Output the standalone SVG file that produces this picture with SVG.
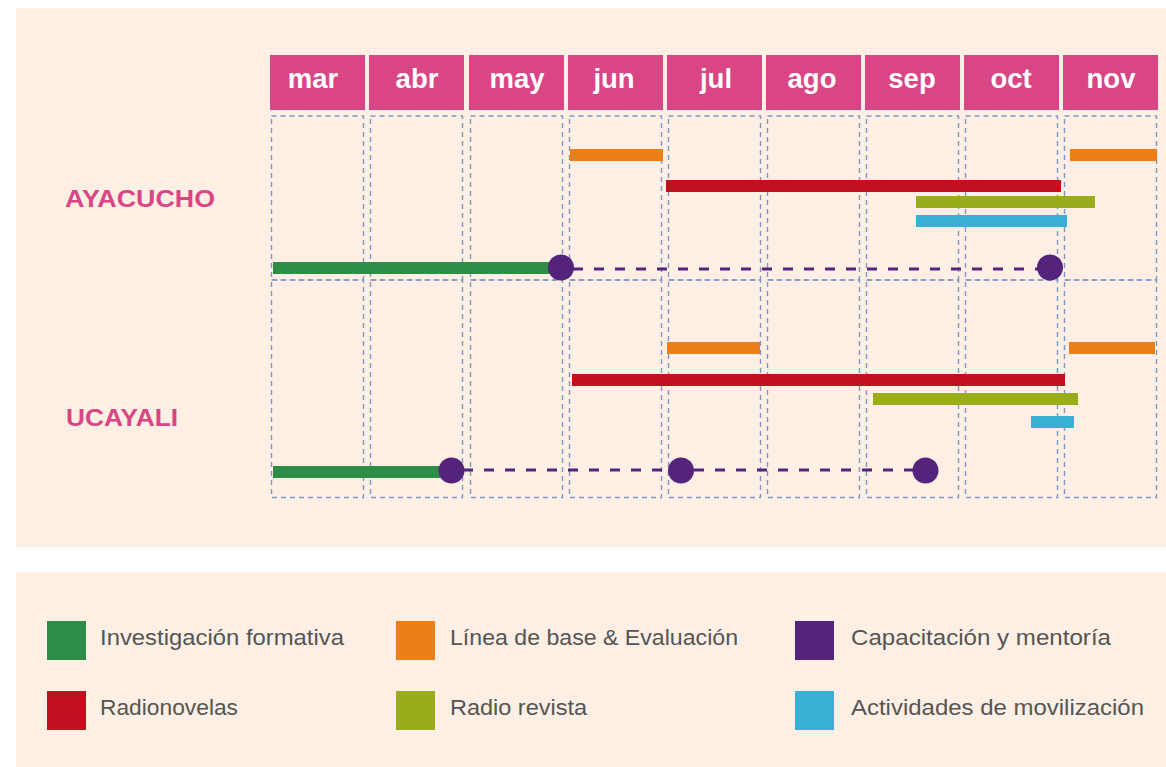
<svg xmlns="http://www.w3.org/2000/svg" width="1166" height="767" viewBox="0 0 1166 767">
<style>
.panel{fill:#fdefe3}
.hdr{fill:#d94585}
.mon{font-family:"Liberation Sans",Arial,sans-serif;font-weight:bold;font-size:27.5px;fill:#fff;text-anchor:middle}
.grid{fill:none;stroke:#7f96c6;stroke-width:1.4;stroke-dasharray:5 4}
.region{font-family:"Liberation Sans",Arial,sans-serif;font-weight:bold;font-size:23px;fill:#d94585}
.leg{font-family:"Liberation Sans",Arial,sans-serif;font-size:22px;fill:#555}
.or{fill:#ec7f17}.rd{fill:#c2101f}.ol{fill:#98ad19}.bl{fill:#38b0d6}.gr{fill:#2d8c46}.pu{fill:#54247c}
.mentor{stroke:#54247c;stroke-width:3;stroke-dasharray:10 11;fill:none}
</style>
<rect width="1166" height="767" fill="#fff"/>
<rect class="panel" x="16" y="8" width="1150" height="539"/>
<rect class="panel" x="16" y="572" width="1150" height="195"/>

<g id="header">
<rect class="hdr" x="270" y="55" width="95" height="55"/>
<rect class="hdr" x="369" y="55" width="95" height="55"/>
<rect class="hdr" x="469" y="55" width="95" height="55"/>
<rect class="hdr" x="568" y="55" width="95" height="55"/>
<rect class="hdr" x="667" y="55" width="95" height="55"/>
<rect class="hdr" x="766" y="55" width="95" height="55"/>
<rect class="hdr" x="865" y="55" width="95" height="55"/>
<rect class="hdr" x="964" y="55" width="95" height="55"/>
<rect class="hdr" x="1063" y="55" width="95" height="55"/>
<text class="mon" x="313" y="88">mar</text>
<text class="mon" x="417" y="88">abr</text>
<text class="mon" x="517" y="88">may</text>
<text class="mon" x="614" y="88">jun</text>
<text class="mon" x="716" y="88">jul</text>
<text class="mon" x="812" y="88">ago</text>
<text class="mon" x="912" y="88">sep</text>
<text class="mon" x="1011" y="88">oct</text>
<text class="mon" x="1111" y="88">nov</text>
</g>

<g id="grid">
<rect class="grid" x="271.5" y="116" width="92" height="164"/>
<rect class="grid" x="370.5" y="116" width="92" height="164"/>
<rect class="grid" x="470.5" y="116" width="92" height="164"/>
<rect class="grid" x="569.5" y="116" width="92" height="164"/>
<rect class="grid" x="668.5" y="116" width="92" height="164"/>
<rect class="grid" x="767.5" y="116" width="92" height="164"/>
<rect class="grid" x="866.5" y="116" width="92" height="164"/>
<rect class="grid" x="965.5" y="116" width="92" height="164"/>
<rect class="grid" x="1064.5" y="116" width="92" height="164"/>
<rect class="grid" x="271.5" y="280" width="92" height="217.5"/>
<rect class="grid" x="370.5" y="280" width="92" height="217.5"/>
<rect class="grid" x="470.5" y="280" width="92" height="217.5"/>
<rect class="grid" x="569.5" y="280" width="92" height="217.5"/>
<rect class="grid" x="668.5" y="280" width="92" height="217.5"/>
<rect class="grid" x="767.5" y="280" width="92" height="217.5"/>
<rect class="grid" x="866.5" y="280" width="92" height="217.5"/>
<rect class="grid" x="965.5" y="280" width="92" height="217.5"/>
<rect class="grid" x="1064.5" y="280" width="92" height="217.5"/>
</g>

<g id="ayacucho">
<text class="region" x="65" y="207" textLength="150" lengthAdjust="spacingAndGlyphs">AYACUCHO</text>
<rect class="or" x="570" y="149" width="93" height="12"/>
<rect class="or" x="1070" y="149" width="87" height="12"/>
<rect class="rd" x="666" y="180" width="395" height="12"/>
<rect class="ol" x="916" y="196" width="179" height="12"/>
<rect class="bl" x="916" y="215" width="151" height="12"/>
<rect class="gr" x="273" y="262" width="288" height="12"/>
</g>

<g id="ucayali">
<text class="region" x="66" y="426" textLength="112" lengthAdjust="spacingAndGlyphs">UCAYALI</text>
<rect class="or" x="667" y="342" width="93" height="12"/>
<rect class="or" x="1069" y="342" width="86" height="12"/>
<rect class="rd" x="572" y="374" width="493" height="12"/>
<rect class="ol" x="873" y="393" width="205" height="12"/>
<rect class="bl" x="1031" y="416" width="43" height="12"/>
<rect class="gr" x="273" y="466" width="178" height="12"/>
</g>

<g id="connectors">
<line class="mentor" x1="573" y1="269" x2="1040" y2="269"/>
<line class="mentor" x1="463" y1="470" x2="915" y2="470"/>
</g>

<g id="milestones">
<circle class="pu" cx="561" cy="267.5" r="13"/>
<circle class="pu" cx="1050" cy="267.5" r="13"/>
<circle class="pu" cx="451.5" cy="470.5" r="13"/>
<circle class="pu" cx="681" cy="470.5" r="13"/>
<circle class="pu" cx="925.5" cy="470.5" r="13"/>
</g>

<g id="legend">
<rect class="gr" x="47" y="621" width="39" height="39"/>
<text class="leg" x="100" y="645" textLength="244" lengthAdjust="spacingAndGlyphs">Investigación formativa</text>
<rect class="rd" x="47" y="691" width="39" height="39"/>
<text class="leg" x="100" y="715" textLength="138" lengthAdjust="spacingAndGlyphs">Radionovelas</text>
<rect class="or" x="396" y="621" width="39" height="39"/>
<text class="leg" x="450" y="645" textLength="288" lengthAdjust="spacingAndGlyphs">Línea de base &amp; Evaluación</text>
<rect class="ol" x="396" y="691" width="39" height="39"/>
<text class="leg" x="450" y="715" textLength="137" lengthAdjust="spacingAndGlyphs">Radio revista</text>
<rect class="pu" x="795" y="621" width="39" height="39"/>
<text class="leg" x="851" y="645" textLength="260" lengthAdjust="spacingAndGlyphs">Capacitación y mentoría</text>
<rect class="bl" x="795" y="691" width="39" height="39"/>
<text class="leg" x="851" y="715" textLength="293" lengthAdjust="spacingAndGlyphs">Actividades de movilización</text>
</g>
</svg>
